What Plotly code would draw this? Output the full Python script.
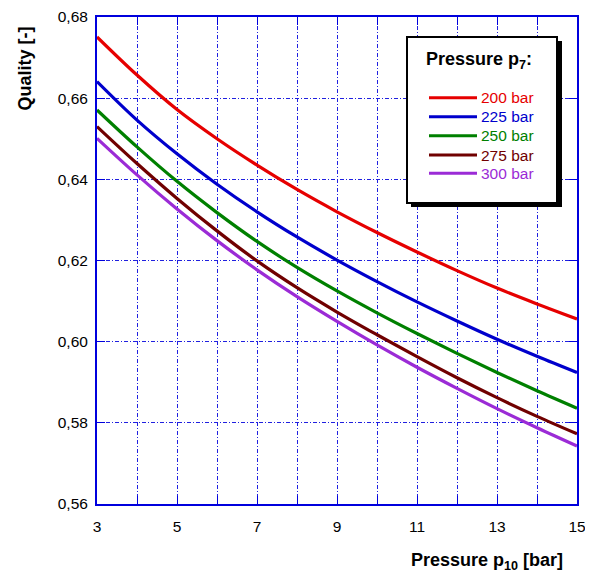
import plotly.graph_objects as go

p10 = [3, 4, 5, 6, 7, 8, 9, 10, 11, 12, 13, 14, 15]
q_200 = [0.6751, 0.6657, 0.6572, 0.6500, 0.6435, 0.6375, 0.6320, 0.6269, 0.6221, 0.6175, 0.6132, 0.6093, 0.6056]
q_225 = [0.6641, 0.6546, 0.6463, 0.6388, 0.6320, 0.6258, 0.6201, 0.6148, 0.6098, 0.6051, 0.6006, 0.5964, 0.5924]
q_250 = [0.6571, 0.6480, 0.6395, 0.6318, 0.6247, 0.6183, 0.6125, 0.6071, 0.6020, 0.5971, 0.5924, 0.5879, 0.5836]
q_275 = [0.6530, 0.6439, 0.6353, 0.6273, 0.6199, 0.6133, 0.6073, 0.6017, 0.5963, 0.5911, 0.5862, 0.5816, 0.5773]
q_300 = [0.6501, 0.6411, 0.6327, 0.6249, 0.6177, 0.6111, 0.6050, 0.5992, 0.5937, 0.5885, 0.5835, 0.5788, 0.5743]

series_names = ["200 bar", "225 bar", "250 bar", "275 bar", "300 bar"]
series_vals = [q_200, q_225, q_250, q_275, q_300]
colors = ["#e60000", "#0000cc", "#008000", "#700000", "#9b2bd6"]

x_ticks = [3, 5, 7, 9, 11, 13, 15]
y_ticks = [0.56, 0.58, 0.60, 0.62, 0.64, 0.66, 0.68]

# page has an 8px body margin; figure is offset by it (overflow is simply clipped)
OFF = 8
W, H = 593 - OFF, 573 - OFF
PL, PR, PT, PB = 97, 577, 17, 504  # plot area in page pixels
L, T = PL - OFF, PT - OFF
R = W - (PR - OFF)
B = H - (PB - OFF)
PW, PH = PR - PL, PB - PT


def px(x):
    return (x - PL) / PW


def py(y):
    return (PB - y) / PH


FONT = "Liberation Sans, Arial, sans-serif"
AX = "#0000dd"
GRID = "#2020e0"
DASH = "4px,2px,1px,2px"

fig = go.Figure()
for name, vals, c in zip(series_names, series_vals, colors):
    fig.add_trace(go.Scatter(x=p10, y=vals, mode="lines", name=name,
                             line=dict(color=c, width=3.2, shape="spline", smoothing=1.0),
                             showlegend=False))

shapes = []
annotations = []
# legend box with shadow
shapes.append(dict(type="rect", xref="paper", yref="paper", x0=px(411), x1=px(562), y0=py(207), y1=py(41),
                   fillcolor="black", line=dict(width=0), layer="above"))
shapes.append(dict(type="rect", xref="paper", yref="paper", x0=px(407), x1=px(557), y0=py(203), y1=py(37),
                   fillcolor="white", line=dict(color="black", width=2), layer="above"))
annotations.append(dict(xref="paper", yref="paper", x=px(424), y=py(60), xanchor="left", yanchor="middle",
                        text="<b>Pressure p<sub>7</sub>:</b>", showarrow=False,
                        font=dict(family=FONT, size=18, color="black")))
row_y = [97.7, 116.7, 135.7, 155, 173.3]
for name, c, yy in zip(series_names, colors, row_y):
    shapes.append(dict(type="line", xref="paper", yref="paper", x0=px(429), x1=px(477), y0=py(yy), y1=py(yy),
                       line=dict(color=c, width=3), layer="above"))
    annotations.append(dict(xref="paper", yref="paper", x=px(479), y=py(yy), xanchor="left", yanchor="middle",
                            text=name, showarrow=False, font=dict(family=FONT, size=15.5, color=c)))

annotations.append(dict(xref="paper", yref="paper", x=px(565), y=py(561), xanchor="right", yanchor="middle",
                        text="<b>Pressure p<sub>10</sub> [bar]</b>", showarrow=False,
                        font=dict(family=FONT, size=18, color="black")))
annotations.append(dict(xref="paper", yref="paper", x=px(24), y=py(68.5), xanchor="center", yanchor="middle",
                        text="<b>Quality [-]</b>", textangle=-90, showarrow=False,
                        font=dict(family=FONT, size=18, color="black")))

fig.update_layout(
    width=W, height=H,
    margin=dict(l=L, r=R, t=T, b=B, autoexpand=False),
    paper_bgcolor="white", plot_bgcolor="white",
    separators=", ",
    font=dict(family=FONT, size=15, color="black"),
    shapes=shapes, annotations=annotations,
    showlegend=False,
)
fig.update_xaxes(range=[3, 15], tickvals=x_ticks, showgrid=True, gridcolor=GRID, griddash=DASH,
                 gridwidth=1, showline=True, linecolor=AX, linewidth=2, mirror="ticks",
                 ticks="inside", ticklen=8, tickcolor=AX, tickwidth=1, ticklabelstandoff=7,
                 tickfont=dict(size=15.5), automargin=False, ticklabeloverflow="allow",
                 minor=dict(dtick=1, tick0=3, showgrid=True, gridcolor=GRID, griddash=DASH,
                            gridwidth=1, ticks="inside", ticklen=8, tickcolor=AX),
                 zeroline=False)
fig.update_yaxes(range=[0.56, 0.68], tickvals=y_ticks, tickformat=".2f", showgrid=True, gridcolor=GRID,
                 griddash=DASH, gridwidth=1, showline=True, linecolor=AX, linewidth=2,
                 mirror="ticks", ticks="inside", ticklen=8, tickcolor=AX, tickwidth=1, ticklabelstandoff=4,
                 tickfont=dict(size=15.5), automargin=False, ticklabeloverflow="allow",
                 zeroline=False)

fig.write_html("out.html")
